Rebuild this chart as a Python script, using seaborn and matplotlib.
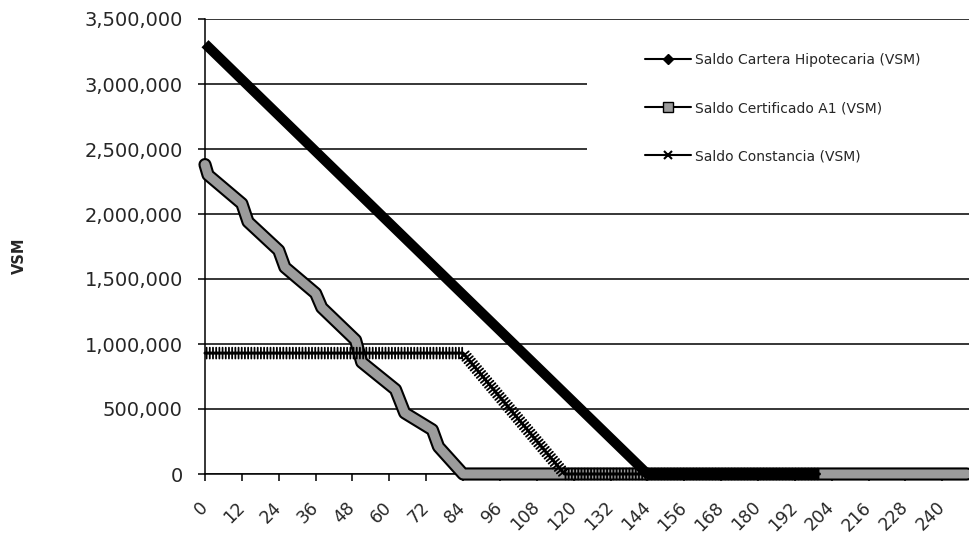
import matplotlib

matplotlib.use("Agg")
import matplotlib.patheffects as pe
import matplotlib.pyplot as plt
import pandas as pd
import seaborn as sns
from matplotlib.lines import Line2D
from matplotlib.patches import Rectangle
from matplotlib.ticker import StrMethodFormatter

# series: (month, balance in VSM) at each corner of the curves
SERIES = [
    "Saldo Cartera Hipotecaria (VSM)",
    "Saldo Certificado A1 (VSM)",
    "Saldo Constancia (VSM)",
]
cartera_mes = [0, 144, 200]
cartera_saldo = [3310000, 0, 0]
certificado_mes = [0, 1, 12, 14, 24, 26, 36, 38, 49, 51, 62, 65, 74, 76, 84, 248]
certificado_saldo = [2380000, 2300000, 2080000, 1940000, 1720000, 1590000, 1390000,
                     1280000, 1030000, 860000, 650000, 470000, 340000, 210000, 0, 0]
constancia_mes = [0, 84, 117, 200]
constancia_saldo = [930000, 930000, 0, 0]
x_ticks = list(range(0, 241, 12))

frame = pd.concat([
    pd.DataFrame({"mes": cartera_mes, "saldo": cartera_saldo, "serie": SERIES[0]}),
    pd.DataFrame({"mes": certificado_mes, "saldo": certificado_saldo, "serie": SERIES[1]}),
    pd.DataFrame({"mes": constancia_mes, "saldo": constancia_saldo, "serie": SERIES[2]}),
], ignore_index=True)

sns.set_style("white")
plt.rcParams["font.family"] = ["DejaVu Sans"]

fig = plt.figure(figsize=(9.7, 5.37), dpi=100)
ax = fig.add_axes([205 / 970, 63 / 537, 765 / 970, 455 / 537])

palette = {SERIES[0]: "black", SERIES[1]: "#9c9c9c", SERIES[2]: "black"}
sns.lineplot(data=frame, x="mes", y="saldo", hue="serie", hue_order=SERIES,
             palette=palette, estimator=None, sort=False, legend=False, ax=ax)

cartera_line, certificado_line, constancia_line = ax.lines[:3]
cartera_line.set_linewidth(7.2)
cartera_line.set_solid_capstyle("butt")
cartera_line.set_zorder(3.5)
certificado_line.set_linewidth(7)
certificado_line.set_path_effects([
    pe.Stroke(linewidth=9.5, foreground="black"),
    pe.Stroke(linewidth=6.5, foreground="#9c9c9c"),
])
certificado_line.set_zorder(3)
constancia_line.set_linewidth(2.2)
constancia_line.set_path_effects([
    pe.TickedStroke(spacing=2.3, angle=90, length=1.7, linewidth=1.3, foreground="black"),
    pe.TickedStroke(spacing=2.3, angle=-90, length=1.7, linewidth=1.3, foreground="black"),
    pe.Normal(),
])
constancia_line.set_zorder(4)
for line in ax.lines[:3]:
    line.set_clip_on(False)

ax.set_xlim(0, 249)
ax.set_ylim(0, 3500000)
ax.set_xticks(x_ticks)
ax.set_xticklabels([str(t) for t in x_ticks])
ax.set_yticks(range(0, 3500001, 500000))
ax.yaxis.set_major_formatter(StrMethodFormatter("{x:,.0f}"))

ax.grid(axis="y", color="black", linewidth=1.1)
ax.grid(axis="x", visible=False)
ax.set_axisbelow(True)
for side in ["top", "right"]:
    ax.spines[side].set_visible(False)
for side in ["left", "bottom"]:
    ax.spines[side].set_color("black")
    ax.spines[side].set_linewidth(1.1)

ax.tick_params(axis="both", direction="out", length=5, width=1.1, color="black",
               bottom=True, left=True)
ax.tick_params(axis="y", pad=11, labelsize=14)
ax.tick_params(axis="x", pad=17, labelsize=12.5)
plt.setp(ax.get_xticklabels(), rotation=45, ha="right", va="center",
         rotation_mode="anchor")

ax.set_xlabel("")
ax.set_ylabel("VSM", fontsize=10.5, fontweight="bold")
ax.yaxis.set_label_coords(-0.233, 0.48)

# white block behind the legend hides the upper grid lines, as in the source
ax.add_patch(Rectangle((0.5, 0.602), 0.5, 0.387, transform=ax.transAxes,
                       facecolor="white", edgecolor="none", zorder=1))

handles = [
    Line2D([], [], color="black", linewidth=1.5, marker="D", markersize=5),
    Line2D([], [], color="black", linewidth=1.5, marker="s", markersize=7,
           markerfacecolor="#9c9c9c", markeredgecolor="black"),
    Line2D([], [], color="black", linewidth=1.5, marker="x", markersize=6,
           markeredgewidth=1.5),
]
ax.legend(handles=handles, labels=SERIES, loc="upper left",
          bbox_to_anchor=(645 / 970, 1 - 53 / 537), bbox_transform=fig.transFigure,
          frameon=False, fontsize=10, handlelength=3.3, handletextpad=0.3,
          labelspacing=2.45, borderpad=0, borderaxespad=0)

fig.savefig("out.png", dpi=100)
plt.close(fig)
